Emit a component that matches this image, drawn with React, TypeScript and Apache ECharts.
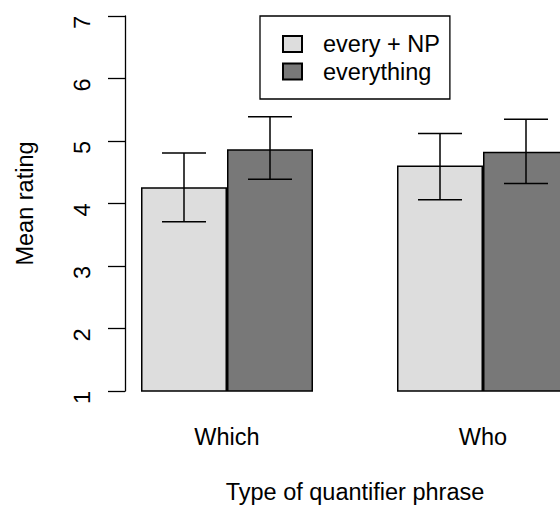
import React, { useEffect, useRef } from "react";
import * as echarts from "echarts";

const categories = ["Which", "Who"];
const seriesNames = ["every + NP", "everything"];
const everyNPMeans = [4.26, 4.61];
const everythingMeans = [4.87, 4.83];
const everyNPLow = [3.71, 4.06];
const everyNPHigh = [4.81, 5.12];
const everythingLow = [4.39, 4.32];
const everythingHigh = [5.39, 5.35];
const yTicks = [1, 2, 3, 4, 5, 6, 7];

const FONT = '"Liberation Sans", Arial, sans-serif';
const FS = 23.5;
const BAR_WIDTH = 86;
const WHISKER = 22;

function errorBar(offset: number) {
  return (_params: any, api: any) => {
    const cat = api.value(0);
    const top = api.coord([cat, api.value(2)]);
    const bot = api.coord([cat, api.value(1)]);
    const x = top[0] + offset;
    const style = { stroke: "#000", lineWidth: 1.5 };
    return {
      type: "group",
      children: [
        { type: "line", shape: { x1: x, y1: top[1], x2: x, y2: bot[1] }, style },
        { type: "line", shape: { x1: x - WHISKER, y1: top[1], x2: x + WHISKER, y2: top[1] }, style },
        { type: "line", shape: { x1: x - WHISKER, y1: bot[1], x2: x + WHISKER, y2: bot[1] }, style },
      ],
    };
  };
}

export default function App() {
  const ref = useRef<HTMLDivElement>(null);

  useEffect(() => {
    if (!ref.current) return;
    const chart = echarts.init(ref.current, undefined, { renderer: "svg" });
    chart.setOption({
      animation: false,
      backgroundColor: "#fff",
      textStyle: { fontFamily: FONT },
      grid: { left: 99, top: 16, width: 512, height: 375, outerBoundsMode: "none", containLabel: false },
      legend: {
        data: seriesNames,
        orient: "vertical",
        left: 260,
        top: 16,
        padding: [16, 10, 15.5, 22],
        itemGap: 3.5,
        itemWidth: 19,
        itemHeight: 16,
        icon: "rect",
        backgroundColor: "#fff",
        borderColor: "#000",
        borderWidth: 1.3,
        borderRadius: 0,
        formatter: "{t|{name}}",
        textStyle: {
          rich: {
            t: {
              fontSize: FS,
              fontFamily: FONT,
              color: "#000",
              lineHeight: 26,
              padding: [0, 0, 0, 16],
            },
          },
        },
      },
      xAxis: {
        type: "category",
        data: categories,
        boundaryGap: true,
        axisLine: { show: false },
        axisTick: { show: false },
        axisLabel: {
          fontSize: FS,
          fontFamily: FONT,
          color: "#000",
          lineHeight: 24,
          margin: 34,
        },
        name: "Type of quantifier phrase",
        nameLocation: "middle",
        nameGap: 89,
        nameTextStyle: { fontSize: FS, fontFamily: FONT, color: "#000", lineHeight: 24 },
      },
      yAxis: {
        type: "value",
        min: yTicks[0],
        max: yTicks[yTicks.length - 1],
        interval: 1,
        offset: -26,
        axisLine: { show: true, lineStyle: { color: "#000", width: 1.3 } },
        axisTick: { show: true, inside: false, length: 17, lineStyle: { color: "#000", width: 1.3 } },
        splitLine: { show: false },
        axisLabel: {
          rotate: 89.9,
          fontSize: FS,
          fontFamily: FONT,
          color: "#000",
          margin: 43,
        },
        name: "Mean rating",
        nameLocation: "middle",
        nameGap: 88,
        nameTextStyle: { fontSize: FS, fontFamily: FONT, color: "#000", lineHeight: 24 },
      },
      series: [
        {
          name: seriesNames[0],
          type: "bar",
          data: everyNPMeans,
          barWidth: BAR_WIDTH,
          barGap: "0%",
          clip: true,
          itemStyle: { color: "#dddddd", borderColor: "#000", borderWidth: 1.5 },
        },
        {
          name: seriesNames[1],
          type: "bar",
          data: everythingMeans,
          barWidth: BAR_WIDTH,
          barGap: "0%",
          clip: true,
          itemStyle: { color: "#787878", borderColor: "#000", borderWidth: 1.5 },
        },
        {
          type: "custom",
          renderItem: errorBar(-BAR_WIDTH / 2),
          data: categories.map((_, i) => [i, everyNPLow[i], everyNPHigh[i]]),
          encode: { x: 0, y: [1, 2] },
          z: 5,
        },
        {
          type: "custom",
          renderItem: errorBar(BAR_WIDTH / 2),
          data: categories.map((_, i) => [i, everythingLow[i], everythingHigh[i]]),
          encode: { x: 0, y: [1, 2] },
          z: 5,
        },
      ],
    });
    return () => chart.dispose();
  }, []);

  return (
    <div
      ref={ref}
      style={{ position: "absolute", left: 0, top: 0, width: 560, height: 505 }}
    />
  );
}
